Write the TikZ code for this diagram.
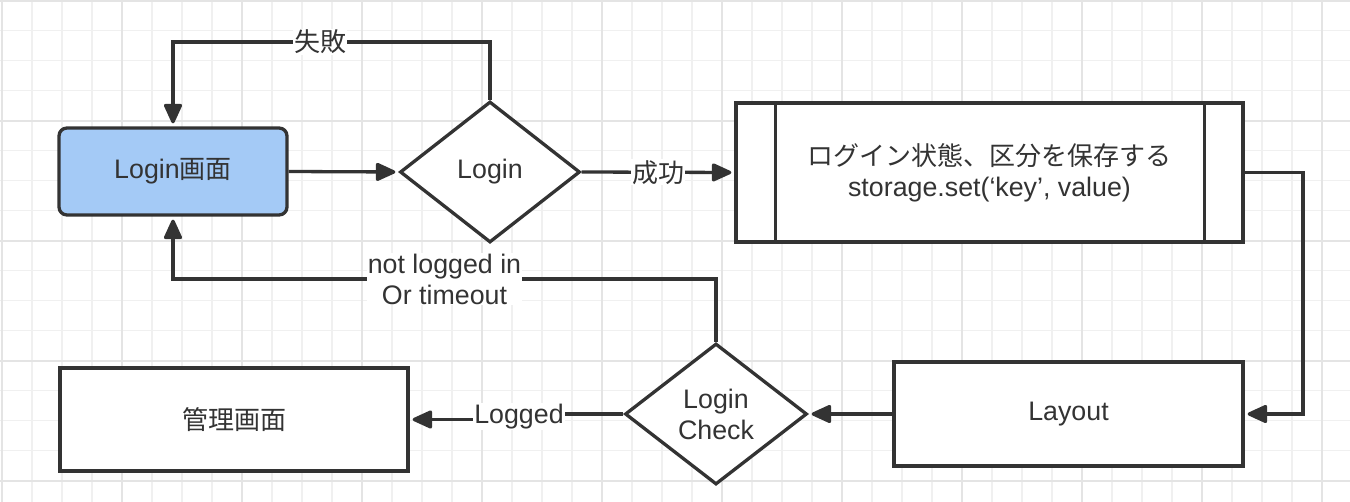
\documentclass[tikz,border=0pt]{standalone}
\usepackage{fontspec}
\setmainfont{Liberation Sans}[Scale=1.03]
\newfontfamily\cjk{Noto Sans CJK JP}
\usetikzlibrary{shapes.geometric,arrows.meta}
\definecolor{ink}{HTML}{333333}
\definecolor{blu}{HTML}{A4CAF6}
\definecolor{gmin}{HTML}{F0F0F0}
\definecolor{gmaj}{HTML}{E4E4E4}
\begin{document}
\begin{tikzpicture}[x=1pt,y=-1pt,
 font=\fontsize{26}{31}\selectfont, text=ink,
 box/.style={draw=ink,line width=3.3pt,fill=white,rectangle,inner sep=0pt,align=center},
 dia/.style={draw=ink,line width=3.3pt,fill=white,diamond,inner sep=0pt,align=center},
 arr/.style={draw=ink,line width=3.3pt,shorten >=3pt,-{Triangle[length=22pt,width=19pt,round]}},
 lbl/.style={fill=white,inner sep=1pt,align=center,text=ink},
 gridmin/.style={draw=gmin,line width=1.5pt},
 gridmaj/.style={draw=gmaj,line width=2pt}]
\useasboundingbox (0,0) rectangle (1350,502);
\fill[white] (0,0) rectangle (1350,502);
% grid
\foreach \k in {0,...,44} {\draw[gridmin] ({2+30*\k},0) -- ({2+30*\k},502);}
\foreach \k in {0,...,16} {\draw[gridmin] (0,{0.7+30*\k}) -- (1350,{0.7+30*\k});}
\foreach \k in {0,...,11} {\draw[gridmaj] ({2+120*\k},0) -- ({2+120*\k},502);}
\foreach \k in {0,...,4} {\draw[gridmaj] (0,{0.7+120*\k}) -- (1350,{0.7+120*\k});}
% nodes
\node[box,fill=blu,rounded corners=8pt,minimum width=228pt,minimum height=87pt] (login) at (173,171.5) {Login{\cjk 画面}};
\node[dia,minimum width=180pt,minimum height=141pt] (d1) at (490,172) {Login};
\node[box,minimum width=507pt,minimum height=139pt] (store) at (989.5,172.5)
  {{\cjk ログイン状態、区分を保存する}\\storage.set(‘key’, value)};
\draw[ink,line width=3.3pt] ([xshift=41pt]store.north west) -- ([xshift=41pt]store.south west);
\draw[ink,line width=3.3pt] ([xshift=-40pt]store.north east) -- ([xshift=-40pt]store.south east);
\node[box,minimum width=349pt,minimum height=104pt] (layout) at (1068.5,414) {Layout};
\node[dia,minimum width=182pt,minimum height=141pt] (d2) at (716,414) {Login\\Check};
\node[box,minimum width=348pt,minimum height=103pt] (admin) at (234,419.5) {{\cjk 管理画面}};
\coordinate (rr) at (1303,0);
\coordinate (topy) at (0,42);
\coordinate (midy) at (0,279);
\coordinate (jog) at (519,0);
% connectors
\draw[arr] (login.east) -- (d1.west);
\draw[arr] (d1.north) -- (d1.north |- topy) -- node[lbl,pos=0.536]{{\cjk 失敗}} (login.north |- topy) -- (login.north);
\draw[arr] (d1.east) -- node[lbl]{{\cjk 成功}} (store.west);
\draw[arr] (store.east) -- (store.east -| rr) |- (layout.east);
\draw[arr] (layout.west) -- (d2.east);
\draw[arr] (d2.north) -- (d2.north |- midy) -- node[lbl]{not logged in\\Or timeout} (login.south |- midy) -- (login.south);
\draw[arr] (d2.west) -- (d2.west -| jog) -- node[lbl]{Logged} (admin.east -| jog) -- (admin.east);
\end{tikzpicture}
\end{document}
